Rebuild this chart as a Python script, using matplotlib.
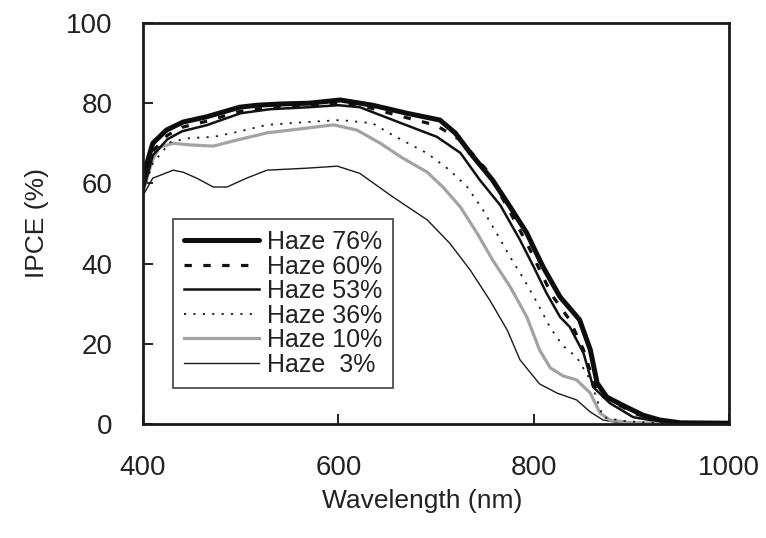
import matplotlib
matplotlib.use("Agg")
import matplotlib.pyplot as plt

plt.rcParams['font.family'] = ['Liberation Sans', 'DejaVu Sans']

# IPCE curves (wavelength nm, IPCE %)
wl_76 = [400, 404, 410, 424, 441, 465, 482, 499, 517, 540, 570, 602, 635, 670, 704, 720, 735,
         758, 776, 793, 800, 810, 827, 847, 858, 865, 875, 895, 912, 929, 950, 1000]
ipce_76 = [60, 65, 70, 73.3, 75.3, 76.6, 77.8, 79, 79.5, 79.8, 80, 80.8, 79.5, 77.5, 75.8, 72.5, 67.6,
           60.8, 54.1, 47.6, 44, 39, 31.7, 26, 18.5, 10.2, 6.7, 4.2, 2.2, 1, 0.3, 0.2]

wl_60 = [400, 410, 425, 440, 465, 500, 530, 570, 600, 630, 660, 700, 725, 752, 773, 793, 813,
         820, 837, 851, 865, 885, 905, 925, 950, 1000]
ipce_60 = [59, 68, 72, 74, 75.5, 78, 79, 79.5, 80, 79, 77, 74.5, 70.8, 63.3, 54.1, 45.1, 35,
           31.7, 25.9, 18.5, 7.7, 5, 2.5, 1, 0.3, 0.2]

wl_53 = [400, 410, 425, 440, 465, 500, 530, 570, 600, 622, 656, 701, 725, 745, 766, 786, 800,
         813, 827, 837, 851, 861, 878, 902, 919, 950, 1000]
ipce_53 = [58, 67, 71, 73, 74.5, 77.5, 78.5, 79, 79.5, 79, 75.8, 71.6, 67.6, 60.8, 54.5, 45.9, 39.2,
           32.7, 26.7, 24.2, 17.7, 9.2, 5.2, 1.7, 1, 0.3, 0.2]

wl_36 = [400, 410, 428, 448, 472, 496, 527, 568, 602, 635, 656, 691, 714, 732, 748, 762, 776,
         789, 803, 817, 830, 844, 858, 865, 871, 890, 920, 1000]
ipce_36 = [58, 65, 70.3, 71.3, 71.6, 72.8, 74.6, 75.3, 75.8, 75, 72, 67.5, 63.3, 59.1, 53.4, 47.6, 41.6,
           36.5, 30.5, 24, 19.5, 16.7, 11, 6, 1.7, 0.8, 0.3, 0.2]

wl_10 = [400, 410, 417, 431, 448, 472, 496, 527, 568, 595, 619, 643, 666, 691, 707, 725, 742,
         758, 776, 793, 806, 817, 830, 844, 858, 868, 878, 900, 1000]
ipce_10 = [58, 66, 69, 70, 69.6, 69.3, 70.8, 72.6, 73.8, 74.6, 73.3, 70, 66.3, 62.8, 59.1, 54.1, 47.6,
           40.9, 34.2, 26.7, 18.5, 14, 12, 11, 7.7, 2.7, 1, 0.3, 0.2]

wl_3 = [400, 410, 431, 441, 455, 472, 486, 506, 527, 568, 599, 622, 656, 691, 714, 735, 755,
        773, 786, 806, 824, 844, 858, 871, 885, 900, 1000]
ipce_3 = [57, 61.3, 63.3, 62.8, 61.3, 59.1, 59.1, 61.3, 63.3, 63.8, 64.3, 62.5, 56.6, 50.9, 45.1, 38.4, 30.9,
          23.4, 16, 10, 7.7, 6, 3, 1, 0.4, 0.2, 0.1]

labels = ['Haze 76%', 'Haze 60%', 'Haze 53%', 'Haze 36%', 'Haze 10%', 'Haze  3%']
x_ticks = [400, 600, 800, 1000]
y_ticks = [0, 20, 40, 60, 80, 100]

fig = plt.figure(figsize=(7.66, 5.38), dpi=100)
ax = fig.add_axes([143 / 766, 1 - 424 / 538, 586 / 766, 401 / 538])

ax.plot(wl_3, ipce_3, color='#1a1a1a', lw=1.0, label=labels[5])
ax.plot(wl_10, ipce_10, color='#a3a3a3', lw=2.3, label=labels[4])
ax.plot(wl_36, ipce_36, color='#1a1a1a', lw=1.3, dashes=(1.2, 4.0), label=labels[3])
ax.plot(wl_53, ipce_53, color='#111111', lw=1.8, label=labels[2])
ax.plot(wl_60, ipce_60, color='#111111', lw=2.3, dashes=(2.3, 3.6), label=labels[1])
ax.plot(wl_76, ipce_76, color='#0d0d0d', lw=3.6, solid_capstyle='round', label=labels[0])

ax.set_xlim(400, 1000)
ax.set_ylim(0, 100)
ax.set_xticks(x_ticks)
ax.set_yticks(y_ticks)
ax.tick_params(direction='in', length=7, width=1.4, labelsize=20, colors='#222222', pad=22)
for s in ax.spines.values():
    s.set_linewidth(2.0)
    s.set_color('#1a1a1a')

ax.set_xlabel('Wavelength (nm)', fontsize=19, color='#222222')
ax.xaxis.set_label_coords(0.477, -0.162)
ax.set_ylabel('IPCE (%)', fontsize=19, color='#222222', labelpad=12)

handles, labs = ax.get_legend_handles_labels()
leg = ax.legend(handles[::-1], labs[::-1], loc='lower left', bbox_to_anchor=(0.051, 0.09),
                borderaxespad=0, fontsize=18, frameon=True, fancybox=False,
                handlelength=3.0, handletextpad=0.3, labelspacing=0.02, borderpad=0.45)
leg.get_frame().set_edgecolor('#222222')
leg.get_frame().set_linewidth(1.3)
for t in leg.get_texts():
    t.set_color('#222222')

plt.savefig('out.png', dpi=100)
